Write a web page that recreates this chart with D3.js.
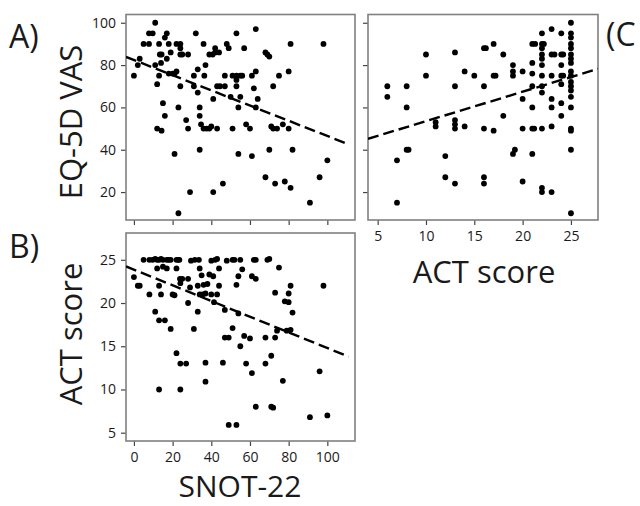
<!DOCTYPE html>
<html>
<head>
<meta charset="utf-8">
<script src="https://cdn.jsdelivr.net/npm/d3@7"></script>
<style>
  body { margin: 0; background: #fff; }
  text { font-family: "Open Sans", sans-serif; fill: #1a1a1a; }
</style>
</head>
<body>
<div id="viz"></div>
<script>
// tick labels
var snotTicks = [0, 20, 40, 60, 80, 100];
var vasTicks = [20, 40, 60, 80, 100];
var actTicks = [5, 10, 15, 20, 25];

// A) SNOT-22 vs EQ-5D VAS
var snotA = [0, 2, 3, 5, 7.8, 7.8, 9.7, 11, 11, 12, 13, 13.4, 14.3, 13, 14, 12, 14.3, 15, 16, 16, 17, 17, 18, 19, 18, 20, 21, 22, 22, 24, 24, 24, 25, 21, 23, 24, 28, 27, 28, 29, 23, 31, 31, 33, 32, 33, 34, 34, 34.7, 36, 37.6, 39, 40, 34, 36, 36.4, 37, 39, 40.7, 42, 44, 42, 41, 41, 43, 44.5, 43, 46, 47, 47, 48, 49, 50, 51, 53, 51, 53, 53, 53, 54, 55, 54, 55, 56, 57, 58, 60, 61, 61, 62, 63, 63, 63, 64, 68, 69, 70, 68, 70, 72, 71, 72, 74, 73, 75, 77, 78, 80, 80, 81, 81, 82, 91, 96, 98, 100];
var vasA = [75, 80, 83, 90, 90, 95, 95, 100, 80, 71, 90, 85, 85, 75, 81, 50, 49, 62, 56, 93, 95, 83, 90, 86, 76, 76, 76, 77, 90, 90, 88, 85, 85, 38, 60, 70, 85, 54, 50, 20, 10, 70, 75, 78, 95, 67, 60, 56, 52, 50, 50, 50, 51, 40, 90, 75, 80, 85, 85, 86, 86, 88, 64, 20, 70, 70, 50, 24, 75, 70, 90, 88, 65, 75, 75, 50, 95, 73, 70, 60, 65, 38, 75, 75, 88, 52, 50, 37, 75, 69, 77, 97, 60, 64, 86, 85, 84, 27, 40, 70, 51, 50, 50, 24, 75, 52, 25, 50, 77, 90, 22, 40, 15, 27, 90, 35];
var fitA = [82.4, -0.359];

// C) ACT score vs EQ-5D VAS
var actC = [6, 6, 7, 7, 8, 8, 8, 8.2, 10, 10, 11, 11, 12, 12, 13, 13, 13, 13, 13, 13, 14, 15, 14, 16, 16.2, 17, 16, 16, 16, 16, 17, 17, 17.2, 18, 18, 19, 19, 19, 19, 19.2, 20, 20, 20, 20, 21, 21.3, 21, 21, 21, 21, 21, 21.2, 21, 22, 22, 22.2, 22, 22, 22, 22, 22, 22, 22, 22, 22, 22, 23, 23, 23.3, 23, 23, 23, 23, 23, 24, 24, 24.2, 24, 24, 24.2, 24, 24, 24, 25, 25, 25, 25, 25, 25, 25, 25, 25, 25, 25, 25, 25, 25, 25, 25, 25, 25, 25];
var vasC = [70, 65, 35, 15, 70, 60, 40, 40, 85, 75, 51, 53, 37, 27, 24, 86, 70, 52, 54, 50, 77, 75, 51, 88, 88, 90, 70, 50, 27, 24, 49, 75, 75, 56, 85, 80, 77, 75, 38, 40, 50, 64, 77, 25, 90, 90, 81, 76, 70, 60, 50, 50, 38, 88, 90, 90, 85, 83, 80, 75, 70, 95, 67, 50, 22, 20, 97, 85, 85, 75, 60, 20, 64, 51, 95, 85, 85, 80, 75, 75, 71, 62, 56, 100, 95, 93, 90, 88, 85, 83, 81, 77, 75, 72, 70, 68, 65, 60, 50, 49, 40, 10];
var fitC = [39.6, 1.39];

// B) SNOT-22 vs ACT score
var snotB = [0, 2, 3, 5, 8, 9.7, 11, 12, 13, 14, 15, 17, 18, 19, 22, 23, 23.5, 29.5, 31.5, 33.6, 40, 42, 43, 48, 51, 52, 55, 62, 63, 69, 70, 12, 15, 17, 13, 8, 14, 20, 21, 22, 23.8, 25, 24, 28, 29, 28, 11, 13, 16, 19, 22, 24, 27, 13, 24, 31, 33, 33, 34, 35, 39, 41, 34, 35.5, 37, 36, 38, 40, 43, 41.4, 44, 44, 37, 37, 46, 47, 47, 49, 51, 53, 54, 54, 56, 55, 57, 60, 58, 61, 61, 63, 68, 68, 71, 73, 73, 74, 75, 77, 78, 80, 79, 81, 80, 81, 82, 63, 71, 72, 49, 53, 91, 96, 98, 100];
var actB = [23, 22, 22, 25, 25, 25, 25.1, 25, 25, 25.1, 25, 25, 25, 25, 25, 25, 25, 24.9, 25, 25, 24.9, 25, 25.1, 24.9, 25, 25, 25, 25, 25, 25, 25.1, 24, 24.2, 24, 22, 21, 21, 21, 20.9, 24, 22.8, 22.8, 22.3, 22.8, 21.8, 20, 19, 18, 18, 17, 14.2, 13, 13, 10, 10, 17, 19, 22, 24, 23.2, 23.3, 23.1, 21, 21, 21.1, 22.1, 22.2, 21, 21, 20.1, 24, 22, 10.9, 13.1, 13.1, 19.2, 16, 16, 17.1, 22.1, 23.1, 18.8, 23.9, 15, 16.2, 15.9, 13, 11.9, 23.1, 22.8, 16, 13, 13.9, 16, 21.2, 16.8, 24.1, 11, 20.2, 20.1, 16.8, 16.9, 21.1, 22, 18.9, 8, 8, 7.9, 5.9, 5.9, 6.8, 12.1, 22, 7];
var fitB = [23.86, -0.0907];

var svg = d3.select("#viz").append("svg")
  .attr("width", 640)
  .attr("height", 506);

// draws one framed scatter panel
var drawPanel = function (p) {
  var xScale = d3.scaleLinear().domain(p.xDomain).range([p.left, p.right]);
  var yScale = d3.scaleLinear().domain(p.yDomain).range([p.bottom, p.top]);

  var g = svg.append("g");

  var xAxis = d3.axisBottom(xScale).tickValues(p.xTicks).tickSize(5).tickPadding(6);
  var yAxis = d3.axisLeft(yScale).tickValues(p.yTicks).tickSize(5).tickPadding(5);
  if (!p.xLabels) xAxis.tickFormat("");
  if (!p.yLabels) yAxis.tickFormat("");

  var gx = g.append("g")
    .attr("transform", "translate(0," + p.bottom + ")")
    .call(xAxis);
  var gy = g.append("g")
    .attr("transform", "translate(" + p.left + ",0)")
    .call(yAxis);

  [gx, gy].forEach(function (a) {
    a.select(".domain").remove();
    a.selectAll(".tick line").attr("stroke", "#444").attr("stroke-width", 1.2);
    a.selectAll(".tick text")
      .style("font-family", "'Open Sans', sans-serif")
      .style("font-size", "14px")
      .attr("fill", "#1a1a1a");
  });

  g.append("rect")
    .attr("x", p.left)
    .attr("y", p.top)
    .attr("width", p.right - p.left)
    .attr("height", p.bottom - p.top)
    .attr("fill", "none")
    .attr("stroke", "#808080")
    .attr("stroke-width", 1.6);

  var clipId = "clip" + p.name;
  svg.append("clipPath").attr("id", clipId)
    .append("rect")
    .attr("x", p.left)
    .attr("y", p.top)
    .attr("width", p.right - p.left)
    .attr("height", p.bottom - p.top);

  g.append("g")
    .selectAll("circle")
    .data(d3.range(p.xs.length))
    .enter()
    .append("circle")
    .attr("cx", function (i) { return xScale(p.xs[i]); })
    .attr("cy", function (i) { return yScale(p.ys[i]); })
    .attr("r", 2.9)
    .attr("fill", "#000");

  var x0 = p.fitRange[0], x1 = p.fitRange[1];
  g.append("line")
    .attr("clip-path", "url(#" + clipId + ")")
    .attr("x1", xScale(x0))
    .attr("y1", yScale(p.fit[0] + p.fit[1] * x0))
    .attr("x2", xScale(x1))
    .attr("y2", yScale(p.fit[0] + p.fit[1] * x1))
    .attr("stroke", "#000")
    .attr("stroke-width", 2.4)
    .attr("stroke-dasharray", "11,5");
};

drawPanel({
  name: "A", left: 126, right: 355, top: 14.5, bottom: 220,
  xDomain: [-4.1, 114.3], yDomain: [6.8, 103.9],
  xTicks: snotTicks, yTicks: vasTicks, xLabels: false, yLabels: true,
  xs: snotA, ys: vasA, fit: fitA, fitRange: [-4.1, 111]
});

drawPanel({
  name: "C", left: 368, right: 598, top: 14.5, bottom: 220,
  xDomain: [4.0, 27.8], yDomain: [6.8, 103.9],
  xTicks: actTicks, yTicks: vasTicks, xLabels: true, yLabels: false,
  xs: actC, ys: vasC, fit: fitC, fitRange: [4.0, 27.8]
});

drawPanel({
  name: "B", left: 126, right: 355, top: 233, bottom: 441,
  xDomain: [-4.1, 114.3], yDomain: [4.04, 28.1],
  xTicks: snotTicks, yTicks: actTicks, xLabels: true, yLabels: true,
  xs: snotB, ys: actB, fit: fitB, fitRange: [-4.1, 111]
});

// axis titles
svg.append("text")
  .attr("transform", "translate(82,122) rotate(-90)")
  .attr("text-anchor", "middle")
  .style("font-size", "31px")
  .text("EQ-5D VAS");

svg.append("text")
  .attr("transform", "translate(82,334) rotate(-90)")
  .attr("text-anchor", "middle")
  .style("font-size", "31px")
  .text("ACT score");

svg.append("text")
  .attr("x", 240)
  .attr("y", 497)
  .attr("text-anchor", "middle")
  .style("font-size", "30px")
  .text("SNOT-22");

svg.append("text")
  .attr("x", 484)
  .attr("y", 283)
  .attr("text-anchor", "middle")
  .style("font-size", "31px")
  .text("ACT score");

// panel letters
svg.append("text").attr("x", 9).attr("y", 48).style("font-size", "32px").text("A)");
svg.append("text").attr("x", 9).attr("y", 258).style("font-size", "32px").text("B)");
svg.append("text").attr("x", 606).attr("y", 46).style("font-size", "32px").text("(C");
</script>
</body>
</html>
